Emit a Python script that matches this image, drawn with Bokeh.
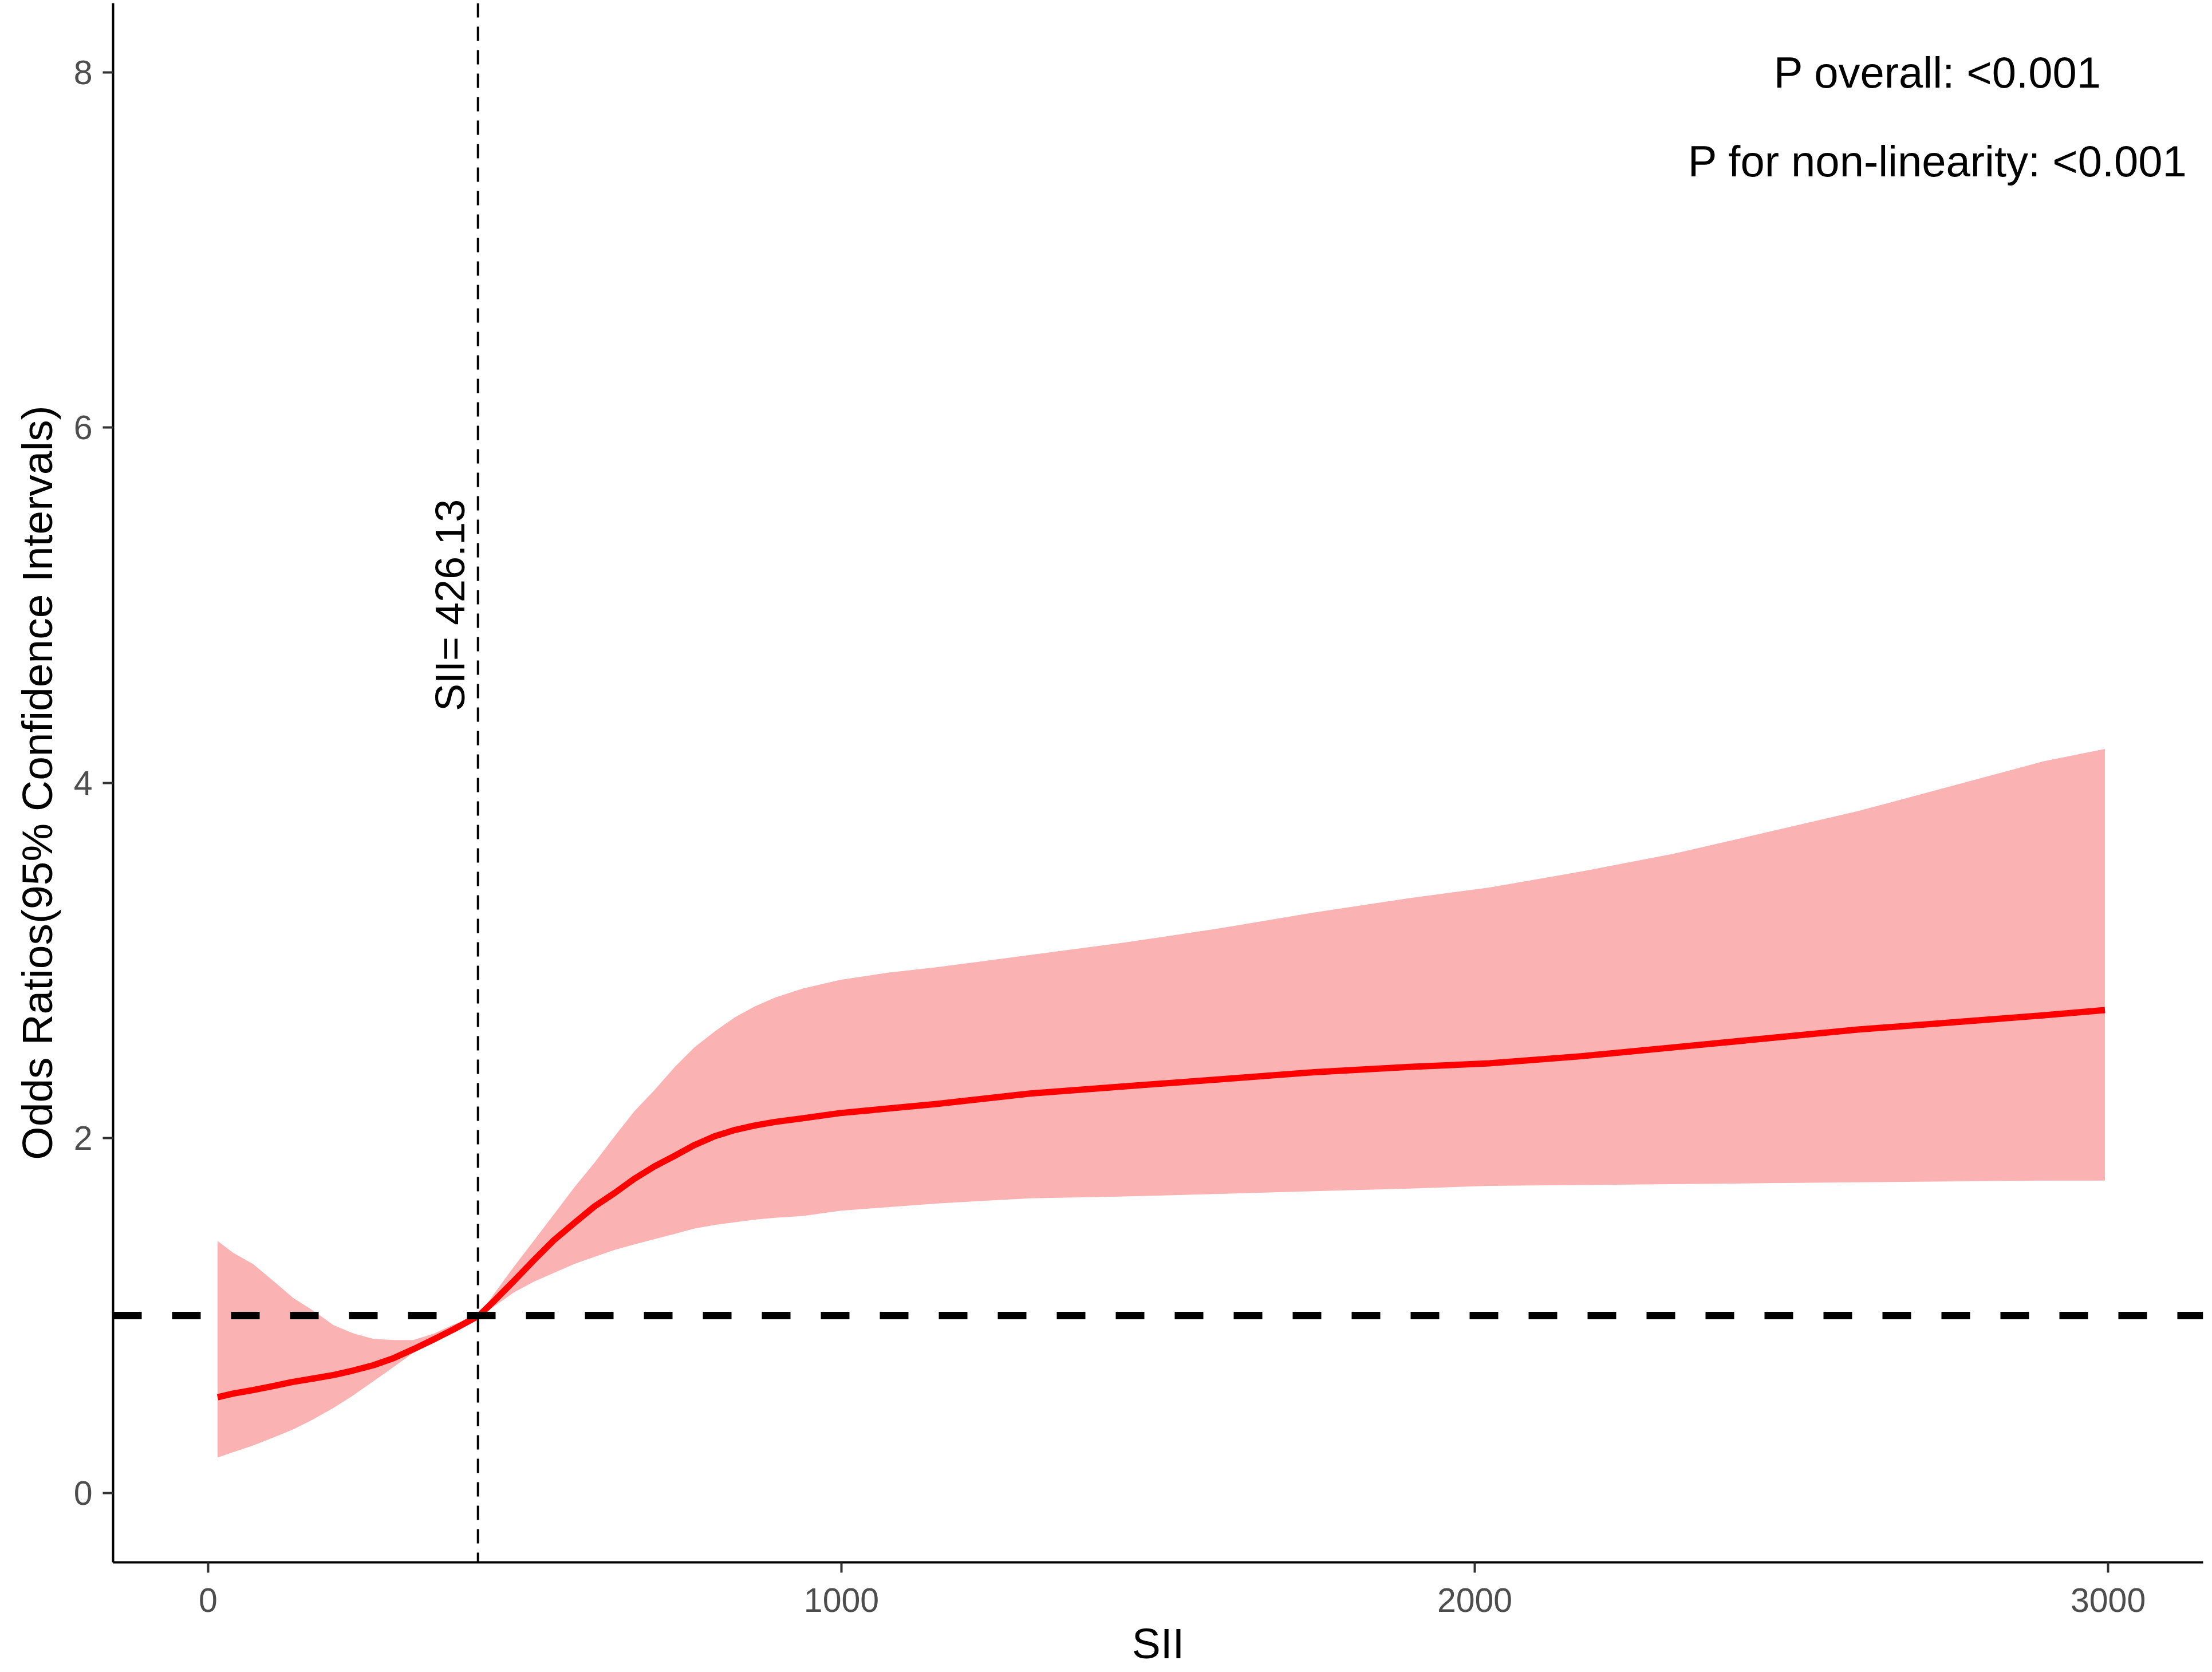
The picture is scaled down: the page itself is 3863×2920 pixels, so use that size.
from math import pi
from bokeh.plotting import figure
from bokeh.models import Range1d, Span, Label, FixedTicker, ColumnDataSource
from bokeh.embed import file_html
from bokeh.resources import INLINE

# ---- data ----
sii = [15, 39, 71, 103, 134, 166, 198, 229, 261, 293, 324, 356, 388, 428, 451, 483,
       514, 546, 578, 610, 642, 673, 705, 737, 768, 800, 832, 863, 895, 938, 998,
       1073, 1148, 1223, 1298, 1447, 1597, 1747, 1897, 2023, 2168, 2314, 2460,
       2605, 2751, 2897, 2995]
or_mid = [0.54, 0.56, 0.58, 0.603, 0.626, 0.645, 0.665, 0.69, 0.72, 0.76, 0.81,
          0.865, 0.923, 1.0, 1.08, 1.195, 1.31, 1.424, 1.52, 1.614, 1.69, 1.77,
          1.84, 1.90, 1.96, 2.01, 2.045, 2.07, 2.09, 2.11, 2.14, 2.165, 2.19, 2.22,
          2.25, 2.29, 2.33, 2.37, 2.40, 2.42, 2.46, 2.51, 2.56, 2.61, 2.65, 2.69,
          2.72]
or_low = [0.20, 0.23, 0.268, 0.313, 0.358, 0.415, 0.48, 0.55, 0.63, 0.71, 0.79,
          0.85, 0.91, 1.0, 1.05, 1.13, 1.19, 1.24, 1.29, 1.33, 1.37, 1.40, 1.43,
          1.46, 1.49, 1.51, 1.525, 1.54, 1.55, 1.56, 1.59, 1.61, 1.63, 1.645, 1.66,
          1.67, 1.685, 1.70, 1.715, 1.73, 1.735, 1.74, 1.745, 1.75, 1.755, 1.76,
          1.76]
or_up = [1.42, 1.354, 1.29, 1.195, 1.10, 1.027, 0.946, 0.90, 0.868, 0.862, 0.862,
         0.897, 0.95, 1.0, 1.12, 1.275, 1.42, 1.57, 1.72, 1.86, 2.01, 2.15, 2.27,
         2.40, 2.51, 2.60, 2.68, 2.74, 2.79, 2.84, 2.89, 2.93, 2.96, 2.995, 3.03,
         3.10, 3.18, 3.27, 3.35, 3.41, 3.50, 3.60, 3.72, 3.84, 3.98, 4.12, 4.19]
cutoff = 426.13
ref_or = 1.0
x_ticks = [0, 1000, 2000, 3000]
y_ticks = [0, 2, 4, 6, 8]
x_title = "SII"
y_title = "Odds Ratios(95% Confidence Intervals)"
cutoff_label = "SII= 426.13"
p_texts = ["P overall: <0.001", "P for non-linearity: <0.001"]

FONT = "Liberation Sans"

src = ColumnDataSource(dict(x=sii, mid=or_mid, low=or_low, up=or_up))

p = figure(width=3855, height=2915,
           x_range=Range1d(-150, 3150), y_range=Range1d(-0.39, 8.39),
           output_backend="svg", toolbar_location=None,
           min_border_left=197, min_border_right=8,
           min_border_top=5, min_border_bottom=187)

p.background_fill_color = "white"
p.border_fill_color = "white"
p.outline_line_color = None
p.xgrid.visible = False
p.ygrid.visible = False

p.varea(x="x", y1="low", y2="up", source=src, fill_color="#FBB2B2", fill_alpha=1.0)
p.line(x="x", y="mid", source=src, line_color="#FF0000", line_width=11,
       line_join="round", line_cap="butt")

p.add_layout(Span(location=cutoff, dimension="height", line_color="black",
                  line_width=4, line_dash="25 16"))
p.add_layout(Span(location=ref_or, dimension="width", line_color="black",
                  line_width=13, line_dash="50 53"))

p.add_layout(Label(x=382, y=5.0, text=cutoff_label, angle=pi / 2,
                   text_align="center", text_baseline="middle",
                   text_font=FONT, text_font_size="72px", text_color="black"))
p.add_layout(Label(x=2731, y=8.0, text=p_texts[0], text_align="center",
                   text_baseline="middle", text_font=FONT,
                   text_font_size="76px", text_color="black"))
p.add_layout(Label(x=2731, y=7.5, text=p_texts[1], text_align="center",
                   text_baseline="middle", text_font=FONT,
                   text_font_size="76px", text_color="black"))

for ax in (p.xaxis[0], p.yaxis[0]):
    ax.axis_line_color = "black"
    ax.axis_line_width = 4
    ax.major_tick_line_color = "#333333"
    ax.major_tick_line_width = 4
    ax.major_tick_out = 18
    ax.major_tick_in = 0
    ax.minor_tick_line_color = None
    ax.major_label_text_font = FONT
    ax.major_label_text_font_size = "59px"
    ax.major_label_text_color = "#4D4D4D"
    ax.axis_label_text_font = FONT
    ax.axis_label_text_font_size = "75px"
    ax.axis_label_text_font_style = "normal"
    ax.axis_label_text_color = "black"

p.xaxis[0].ticker = FixedTicker(ticks=x_ticks)
p.yaxis[0].ticker = FixedTicker(ticks=y_ticks)
p.xaxis[0].axis_label = x_title
p.yaxis[0].axis_label = y_title
p.xaxis[0].major_label_standoff = 27
p.xaxis[0].axis_label_standoff = 10
p.yaxis[0].major_label_standoff = 18
p.yaxis[0].axis_label_standoff = 19
p.yaxis[0].major_label_orientation = "horizontal"

open("out.html", "w").write(file_html(p, INLINE))
